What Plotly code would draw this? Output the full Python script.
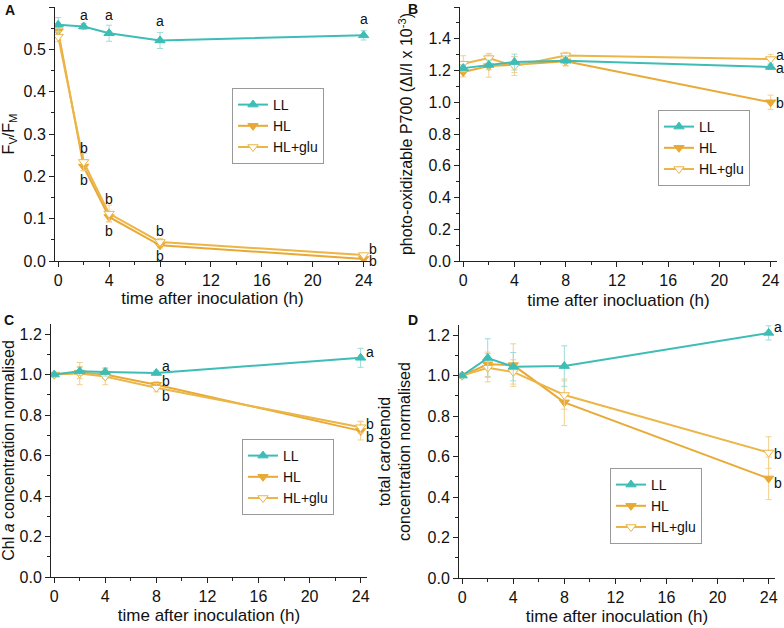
import plotly.graph_objects as go

time_h = [0, 2, 4, 8, 24]
series_names = ["LL", "HL", "HL+glu"]

# Panel A: Fv/Fm
fvfm_LL = [0.558, 0.554, 0.538, 0.521, 0.533]
fvfm_LL_err = [0.017, 0.007, 0.019, 0.019, 0.011]
fvfm_HL = [0.543, 0.223, 0.104, 0.037, 0.005]
fvfm_HL_err = [0.010, 0.010, 0.010, 0.006, 0.004]
fvfm_glu = [0.530, 0.234, 0.112, 0.045, 0.014]
fvfm_glu_err = [0.012, 0.020, 0.020, 0.008, 0.004]

# Panel B: photo-oxidizable P700
p700_LL = [1.215, 1.235, 1.253, 1.262, 1.222]
p700_LL_err = [0.020, 0.030, 0.050, 0.030, 0.015]
p700_HL = [1.190, 1.228, 1.237, 1.258, 1.000]
p700_HL_err = [0.030, 0.070, 0.050, 0.030, 0.045]
p700_glu = [1.243, 1.278, 1.228, 1.295, 1.272]
p700_glu_err = [0.050, 0.030, 0.060, 0.020, 0.030]

# Panel C: Chl a normalised
chl_LL = [1.000, 1.016, 1.013, 1.008, 1.083]
chl_LL_err = [0.005, 0.020, 0.020, 0.010, 0.047]
chl_HL = [1.000, 1.010, 1.000, 0.950, 0.722]
chl_HL_err = [0.005, 0.030, 0.020, 0.015, 0.045]
chl_glu = [1.000, 1.005, 0.990, 0.935, 0.740]
chl_glu_err = [0.005, 0.055, 0.040, 0.020, 0.030]

# Panel D: total carotenoid normalised
car_LL = [1.000, 1.087, 1.044, 1.047, 1.211]
car_LL_err = [0.010, 0.095, 0.070, 0.100, 0.035]
car_HL = [1.000, 1.056, 1.052, 0.868, 0.492]
car_HL_err = [0.010, 0.060, 0.105, 0.115, 0.105]
car_glu = [1.000, 1.039, 1.018, 0.904, 0.620]
car_glu_err = [0.010, 0.070, 0.060, 0.070, 0.078]

# significance letters: (x, y, text)
letters_A = [(2, 0.582, "a"), (4, 0.582, "a"), (8, 0.567, "a"), (24, 0.572, "a"),
             (2, 0.268, "b"), (2, 0.192, "b"), (4, 0.147, "b"), (4, 0.072, "b"),
             (8, 0.072, "b"), (8, 0.012, "b")]
letters_A_right = [(24, 0.029, "b"), (24, 0.000, "b")]
letters_B_right = [(24, 1.298, "a"), (24, 1.216, "a"), (24, 0.995, "b")]
letters_C = [(8, 1.044, "a"), (8, 0.970, "b"), (8, 0.896, "b")]
letters_C_right = [(24, 1.110, "a"), (24, 0.755, "b"), (24, 0.690, "b")]
letters_D_right = [(24, 1.240, "a"), (24, 0.612, "b"), (24, 0.468, "b")]

TEAL = "#3dbdb6"
GOLD = "#e9aa35"
GOLD2 = "#ecb548"
TEAL_ERR = "#9ddcd8"
GOLD_ERR = "#f2d08f"
FONT = "Liberation Sans, Arial, sans-serif"

W, H = 784, 628


def fx(px):
    return px / W


def fy(py):
    return 1 - py / H


fig = go.Figure()

panels = [
    ("x", "y", "legend", (fvfm_LL, fvfm_LL_err), (fvfm_HL, fvfm_HL_err), (fvfm_glu, fvfm_glu_err)),
    ("x2", "y2", "legend2", (p700_LL, p700_LL_err), (p700_HL, p700_HL_err), (p700_glu, p700_glu_err)),
    ("x3", "y3", "legend3", (chl_LL, chl_LL_err), (chl_HL, chl_HL_err), (chl_glu, chl_glu_err)),
    ("x4", "y4", "legend4", (car_LL, car_LL_err), (car_HL, car_HL_err), (car_glu, car_glu_err)),
]

for xa, ya, lg, ll, hl, glu in panels:
    fig.add_trace(go.Scatter(
        x=time_h, y=hl[0], name=series_names[1], xaxis=xa, yaxis=ya, legend=lg,
        mode="lines+markers",
        line=dict(color=GOLD, width=2),
        marker=dict(symbol="triangle-down", size=9, color=GOLD, line=dict(color=GOLD, width=1)),
        error_y=dict(type="data", array=hl[1], color=GOLD_ERR, thickness=1, width=3),
        legendrank=2,
    ))
    fig.add_trace(go.Scatter(
        x=time_h, y=glu[0], name=series_names[2], xaxis=xa, yaxis=ya, legend=lg,
        mode="lines+markers",
        line=dict(color=GOLD2, width=2),
        marker=dict(symbol="triangle-down", size=9, color="white", line=dict(color=GOLD2, width=1)),
        error_y=dict(type="data", array=glu[1], color=GOLD_ERR, thickness=1, width=3),
        legendrank=3,
    ))
    fig.add_trace(go.Scatter(
        x=time_h, y=ll[0], name=series_names[0], xaxis=xa, yaxis=ya, legend=lg,
        mode="lines+markers",
        line=dict(color=TEAL, width=2),
        marker=dict(symbol="triangle-up", size=9, color=TEAL, line=dict(color=TEAL, width=1)),
        error_y=dict(type="data", array=ll[1], color=TEAL_ERR, thickness=1, width=3),
        legendrank=1,
    ))


def axis_common(title_size=17, **kw):
    d = dict(showline=True, linecolor="#222", linewidth=1, mirror=False,
             ticks="outside", ticklen=5, tickwidth=1, tickcolor="#222",
             showgrid=False, zeroline=False, automargin=False,
             tickfont=dict(family=FONT, size=16, color="#111"),
             title_font=dict(family=FONT, size=title_size, color="#111"))
    d.update(kw)
    return d


xtick = dict(range=[-0.25, 24.5], tickvals=[0, 4, 8, 12, 16, 20, 24],
             minor=dict(ticks="outside", ticklen=3, tickcolor="#222", dtick=2, tick0=0, showgrid=False))


def yminor(step):
    return dict(ticks="outside", ticklen=3, tickcolor="#222", dtick=step, showgrid=False)


rowA = [fy(261), fy(7)]
rowC = [fy(577), fy(324)]
rowD = [fy(578), fy(325)]

fig.update_layout(
    xaxis=axis_common(domain=[fx(55), fx(370)], anchor="y",
                      title=dict(text="time after inoculation (h)", standoff=0), **xtick),
    yaxis=axis_common(16, domain=rowA, anchor="x", range=[0, 0.6], dtick=0.1, tickformat=".1f",
                      minor=yminor(0.05),
                      title=dict(text="F<sub>V</sub>/F<sub>M</sub>", standoff=6)),
    xaxis2=axis_common(domain=[fx(460), fx(777)], anchor="y2",
                       title=dict(text="time after inocluation (h)", standoff=5), **xtick),
    yaxis2=axis_common(16, domain=rowA, anchor="x2", range=[0, 1.6], dtick=0.2, tickformat=".1f",
                       minor=yminor(0.1),
                       title=dict(text="photo-oxidizable P700 (ΔI/I x 10<sup>-3</sup>)", standoff=11)),
    xaxis3=axis_common(domain=[fx(51), fx(367)], anchor="y3",
                       title=dict(text="time after inoculation (h)", standoff=4), **xtick),
    yaxis3=axis_common(16, domain=rowC, anchor="x3", range=[0, 1.25], dtick=0.2, tickformat=".1f",
                       minor=yminor(0.1),
                       title=dict(text="Chl <i>a</i> concentration normalised", standoff=5)),
    xaxis4=axis_common(domain=[fx(459), fx(775)], anchor="y4",
                       title=dict(text="time after inoculation (h)", standoff=4), **xtick),
    yaxis4=axis_common(16, domain=rowD, anchor="x4", range=[0, 1.25], dtick=0.2, tickformat=".1f",
                       minor=yminor(0.1),
                       title=dict(text="total carotenoid<br>concentration normalised", standoff=12)),
    width=W, height=H,
    margin=dict(l=0, r=0, t=0, b=0),
    paper_bgcolor="white", plot_bgcolor="white",
    font=dict(family=FONT, size=15, color="#111"),
)


def legend_at(x_px, y_px):
    return dict(x=fx(x_px), y=fy(y_px), xanchor="left", yanchor="top",
                bordercolor="#999", borderwidth=1, bgcolor="white",
                font=dict(family=FONT, size=14, color="#111"),
                tracegroupgap=0, itemwidth=30)


fig.update_layout(
    legend=legend_at(232, 88),
    legend2=legend_at(658, 110),
    legend3=legend_at(242, 439),
    legend4=legend_at(610, 468),
)

ann = []
for xr, yr, lst in [("x", "y", letters_A), ("x3", "y3", letters_C)]:
    for (lx, ly, t) in lst:
        xa = "left" if xr == "x3" else "center"
        ann.append(dict(x=lx, y=ly, xref=xr, yref=yr, text=t, showarrow=False,
                        xanchor=xa, yanchor="middle", xshift=(4 if xr == "x3" else 0),
                        font=dict(family=FONT, size=14, color="#111")))
for xr, yr, lst in [("x", "y", letters_A_right), ("x2", "y2", letters_B_right),
                    ("x3", "y3", letters_C_right), ("x4", "y4", letters_D_right)]:
    for (lx, ly, t) in lst:
        ann.append(dict(x=lx, y=ly, xref=xr, yref=yr, text=t, showarrow=False,
                        xanchor="left", yanchor="middle", xshift=3,
                        font=dict(family=FONT, size=14, color="#111")))

for lbl, px, py in [("A", 3, 10), ("B", 406, 9), ("C", 2, 320), ("D", 406, 320)]:
    ann.append(dict(x=fx(px), y=fy(py), xref="paper", yref="paper", text="<b>" + lbl + "</b>",
                    showarrow=False, xanchor="left", yanchor="middle",
                    font=dict(family=FONT, size=14, color="#111")))

fig.update_layout(annotations=ann)

fig.write_html("out.html", config={"displayModeBar": False},
               post_script="document.body.style.margin='0';")
